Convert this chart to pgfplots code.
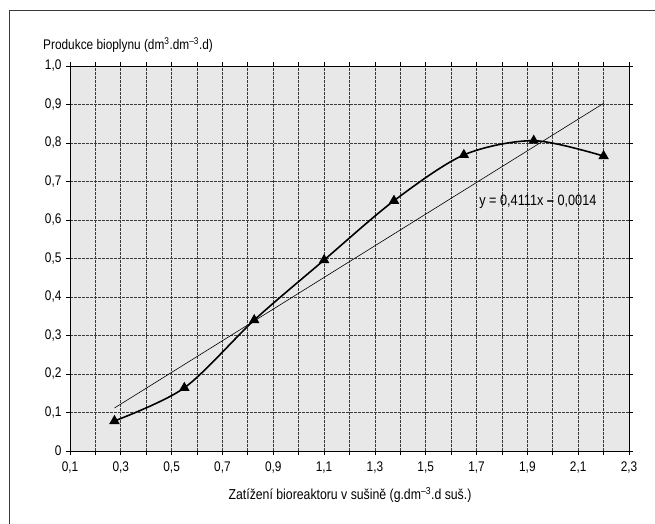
\documentclass[border=0pt]{standalone}
\usepackage{fontspec}
\setmainfont{Liberation Sans}[FakeStretch=0.85]
\usepackage{pgfplots}
\pgfplotsset{compat=1.18}
\definecolor{bggray}{HTML}{E8E8E8}
\definecolor{gridc}{HTML}{3A3A3A}
\begin{document}
\begin{tikzpicture}[x=1bp,y=1bp]
\path[use as bounding box] (0,0) rectangle (655,524);
\draw[line width=1bp, color=gridc] (9,0) -- (9,513) -- (655,513);
\begin{axis}[
  at={(70bp,73bp)}, anchor=south west,
  scale only axis, width=559bp, height=385bp,
  xmin=0.1, xmax=2.3, ymin=0, ymax=1,
  xtick={0.1,0.3,0.5,0.7,0.9,1.1,1.3,1.5,1.7,1.9,2.1,2.3},
  xticklabels={{0,1},{0,3},{0,5},{0,7},{0,9},{1,1},{1,3},{1,5},{1,7},{1,9},{2,1},{2,3}},
  minor xtick={0.2,0.4,0.6,0.8,1.0,1.2,1.4,1.6,1.8,2.0,2.2},
  ytick={0,0.1,0.2,0.3,0.4,0.5,0.6,0.7,0.8,0.9,1.0},
  yticklabels={0,{0,1},{0,2},{0,3},{0,4},{0,5},{0,6},{0,7},{0,8},{0,9},{1,0}},
  grid=both,
  major grid style={gridc, line width=0.8bp, dash pattern=on 2.5bp off 1.5bp},
  minor grid style={gridc, line width=0.8bp, dash pattern=on 2.5bp off 1.5bp},
  tick align=outside, major tick length=4bp, minor tick length=4bp,
  tick style={black, line width=0.8bp},
  axis line style={black, line width=0.9bp},
  axis background/.style={fill=bggray},
  tick label style={font=\fontsize{14}{16}\selectfont},
  xticklabel style={yshift=-3bp},
  yticklabel style={xshift=-1bp},
]
\addplot[black, line width=0.6bp] coordinates {(0.275,0.1117) (2.2,0.9030)};
\addplot[black, line width=1.6bp, smooth, tension=0.5, mark=triangle*, mark size=4.5bp, mark options={solid}]
  coordinates {(0.275,0.078) (0.55,0.164) (0.825,0.340) (1.1,0.496) (1.375,0.650) (1.65,0.769) (1.925,0.806) (2.2,0.766)};
\node[anchor=west, inner sep=0pt, font=\fontsize{15}{17}\selectfont] at (axis cs:1.71,0.648) {y = 0,4111x \textbf{–} 0,0014};
\end{axis}
\node[anchor=base west, inner sep=0pt, font=\fontsize{14}{16}\selectfont] at (43,474) {Produkce bioplynu (dm\textsuperscript{3}.dm\textsuperscript{–3}.d)};
\node[anchor=base, font=\fontsize{14.5}{17}\selectfont] at (350,24) {Zatížení bioreaktoru v sušině (g.dm\textsuperscript{–3}.d suš.)};
\end{tikzpicture}
\end{document}
